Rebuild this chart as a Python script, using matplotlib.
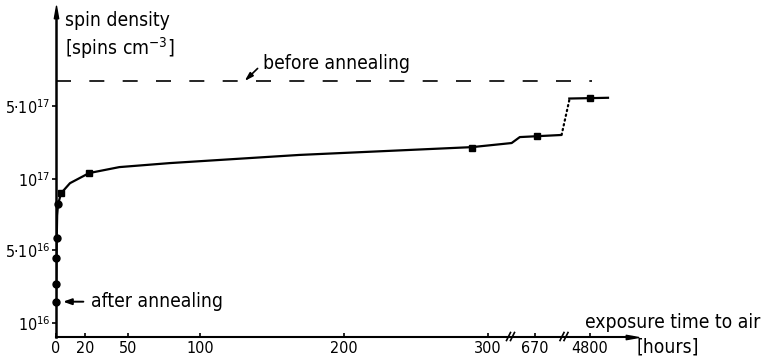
import numpy as np
import matplotlib
matplotlib.use("Agg")
import matplotlib.pyplot as plt
import matplotlib.font_manager as fm
from matplotlib.path import Path
from matplotlib.transforms import blended_transform_factory, ScaledTranslation

fonts = fm.fontManager.ttflist
names = {f.name for f in fonts}
if 'Liberation Sans Narrow' in names:
    FONT, STRETCH, FS, TFS = 'Liberation Sans Narrow', 'normal', 14, 13
elif any(f.name == 'DejaVu Sans' and str(f.stretch) in ('condensed', 'semi-condensed')
         for f in fonts):
    FONT, STRETCH, FS, TFS = 'DejaVu Sans', 'condensed', 13.9, 11.5
else:
    FONT, STRETCH, FS, TFS = 'DejaVu Sans', 'normal', 12.2, 10.5
plt.rcParams['font.family'] = [FONT, 'DejaVu Sans']
plt.rcParams['font.stretch'] = STRETCH
plt.rcParams['mathtext.fontset'] = 'custom'
plt.rcParams['mathtext.rm'] = FONT
plt.rcParams['mathtext.it'] = FONT
plt.rcParams['mathtext.bf'] = FONT

# ---------------- data ----------------
# measured points: exposure time [h], spin density [spins cm^-3]
pts_hours = [0, 0.1, 0.25, 0.5, 1.4, 3.5, 23, 289, 672, 4800]
pts_density = [1.6e16, 2.35e16, 4.2e16, 5.6e16, 7.8e16, 8.7e16, 1.15e17, 2.0e17, 2.6e17, 6.0e17]
pts_marker = ['o', 'o', 'o', 'o', 'o', 's', 's', 's', 's', 's']

# drawn trend curve (solid part)
curve_hours = [0, 0.5, 0.8, 1.4, 3.5, 9.7, 23, 44, 79, 169, 289, 644, 653, 699]
curve_density = [1.6e16, 5.6e16, 7.0e16, 7.8e16, 8.7e16, 9.6e16, 1.14e17, 1.30e17,
                 1.42e17, 1.70e17, 2.02e17, 2.21e17, 2.52e17, 2.64e17]
# dotted jump between the two breaks
dot_hours = [699, 4777]
dot_density = [2.64e17, 5.7e17]
# last solid piece
end_hours = [4777, 4820]
end_density = [5.9e17, 6.0e17]

# level before annealing
before_hours = [0, 4802]
before_density = [8.7e17, 8.7e17]

xtick_values = [0, 20, 50, 100, 200, 300, 670, 4800]
xtick_labels = ['0', '20', '50', '100', '200', '300', '670', '4800']
ytick_values = [1e16, 5e16, 1e17, 5e17]
ytick_labels = ['10$^{16}$', '5·10$^{16}$', '10$^{17}$', '5·10$^{17}$']
break_hours = [320, 700]

# ---------------- broken / stretched scales ----------------
XH = [0, 300, 320, 640, 700, 4770, 4830, 4900]
XP = [56, 488, 507, 508, 562.5, 563, 617, 680]

def xf(h):
    return np.interp(np.asarray(h, float), XH, XP)

def xi(p):
    return np.interp(np.asarray(p, float), XP, XH)

YL = [15, 16, 16.699, 17, 17.699, 19.5]
YP = [-67, 37, 110, 181, 254, 441]

def yf(v):
    return np.interp(np.log10(np.maximum(np.asarray(v, float), 1e-30)), YL, YP)

def yi(p):
    return 10 ** np.interp(np.asarray(p, float), YP, YL)

fig = plt.figure(figsize=(7.68, 3.6), dpi=100)
ax = fig.add_axes([56 / 768, 23 / 360, (632 - 56) / 768, (348 - 23) / 360])
ax.set_xscale('function', functions=(xf, xi))
ax.set_yscale('function', functions=(yf, yi))
ax.set_xlim(0, float(xi(632)))
ax.set_ylim(float(yi(23)), float(yi(348)))

for s in ['top', 'right']:
    ax.spines[s].set_visible(False)
ax.spines['left'].set_linewidth(1.8)
ax.spines['bottom'].set_linewidth(1.5)

ax.set_xticks(xtick_values)
ax.set_xticklabels(xtick_labels, fontsize=TFS)
ax.set_yticks(ytick_values)
ax.set_yticklabels(ytick_labels, fontsize=TFS)
ax.minorticks_off()
ax.tick_params(axis='x', direction='in', length=3, width=1.2, pad=3)
ax.tick_params(axis='y', direction='out', length=3, width=1.2, pad=1)

# data
ax.plot(curve_hours, curve_density, color='black', lw=1.6, solid_capstyle='butt')
ax.plot(dot_hours, dot_density, color='black', lw=1.6, linestyle=(0, (0.6, 1.6)),
        dash_capstyle='round')
ax.plot(end_hours, end_density, color='black', lw=1.6)
for h, v, m in zip(pts_hours, pts_density, pts_marker):
    ax.plot([h], [v], marker=m, color='black', markersize=5, linestyle='none', clip_on=False)

ax.plot(before_hours, before_density, color='black', lw=1.2, linestyle=(0, (9, 11)))

# axis arrows
arrow_up = Path([(-0.35, -1), (0, 1), (0.35, -1), (-0.35, -1)],
                [Path.MOVETO, Path.LINETO, Path.LINETO, Path.CLOSEPOLY])
arrow_right = Path([(-1, -0.35), (1, 0), (-1, 0.35), (-1, -0.35)],
                   [Path.MOVETO, Path.LINETO, Path.LINETO, Path.CLOSEPOLY])
ax.plot([0], [1.0], marker=arrow_up, markersize=9, color='black',
        transform=ax.transAxes, clip_on=False)
ax.plot([1.0], [0], marker=arrow_right, markersize=9, color='black',
        transform=ax.transAxes, clip_on=False)

# axis breaks "//"
bt = blended_transform_factory(ax.transData, ax.transAxes)
for bh, offs in zip(break_hours, [(1.5, 5.5), (-0.5, 3.5)]):
    for o in offs:
        tr1 = bt + ScaledTranslation((o - 2) * 0.72 / 72, -3.5 * 0.72 / 72, fig.dpi_scale_trans)
        tr2 = bt + ScaledTranslation((o + 2) * 0.72 / 72, 4.5 * 0.72 / 72, fig.dpi_scale_trans)
        p1 = tr1.transform((bh, 0))
        p2 = tr2.transform((bh, 0))
        fig.add_artist(plt.Line2D([p1[0] / fig.bbox.width, p2[0] / fig.bbox.width],
                                  [p1[1] / fig.bbox.height, p2[1] / fig.bbox.height],
                                  color='black', lw=1.2))

# annotations
ax.annotate('', xy=(131, 8.7e17), xytext=(140, 1.15e18),
            arrowprops=dict(arrowstyle='-|>,head_length=0.5,head_width=0.15',
                            color='black', lw=1.2, shrinkA=0, shrinkB=0))
ax.text(144, 1.29e18, 'before annealing', fontsize=FS, va='center', ha='left')

ax.annotate('', xy=(4.9, 1.6e16), xytext=(19, 1.6e16),
            arrowprops=dict(arrowstyle='-|>,head_length=0.5,head_width=0.18',
                            color='black', lw=1.4, shrinkA=0, shrinkB=0))
ax.text(24.3, 1.6e16, 'after annealing', fontsize=FS, va='center', ha='left')

fig.text(65 / 768, 1 - 20 / 360, 'spin density', fontsize=FS, va='center', ha='left')
fig.text(65 / 768, 1 - 48 / 360, '[spins cm$^{-3}$]', fontsize=FS, va='center', ha='left')
fig.text(585 / 768, 1 - 323 / 360, 'exposure time to air', fontsize=FS, va='center', ha='left')
fig.text(637 / 768, 1 - 347 / 360, '[hours]', fontsize=FS, va='center', ha='left')

fig.savefig('out.png', dpi=100)
